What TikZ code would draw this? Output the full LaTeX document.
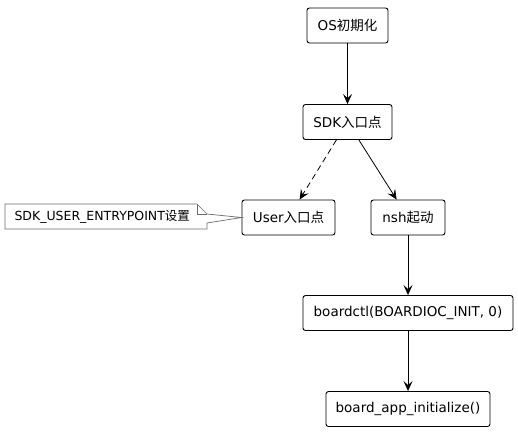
\documentclass[tikz,border=0pt]{standalone}
\usepackage{fontspec}
\setmainfont{DejaVu Sans}
\newfontfamily\cjk{Noto Sans CJK SC}
\usetikzlibrary{arrows.meta}

\tikzset{
stepbox/.style={draw, line width=0.9pt, rounded corners=2.5pt, minimum height=35pt,
font=\fontsize{13.5}{15}\selectfont},
flow/.style={-{Stealth[length=10pt,width=9pt,inset=4pt]}, line width=0.8pt},
}

\begin{document}
\begin{tikzpicture}[x=1pt, y=-1pt]
\useasboundingbox (0,0) rectangle (518,432);
\node (os) [stepbox, minimum width=81pt] at (347.5,25.5) {OS{\cjk 初期化}};
\node (sdk) [stepbox, minimum width=89pt] at (347.5,122) {SDK{\cjk 入口点}};
\node (user) [stepbox, minimum width=93pt] at (288.5,217.5) {User{\cjk 入口点}};
\node (nsh) [stepbox, minimum width=74pt] at (408,217.5) {nsh{\cjk 起动}};
\node (ctl) [stepbox, minimum width=210pt] at (408,313) {boardctl(BOARDIOC\_INIT, 0)};
\node (app) [stepbox, minimum width=164pt] at (408,409) {board\_app\_initialize()};

% note on the user entry
\draw [gray!85!black, line width=0.7pt, fill=white] (5,204) -- (197,204) -- (207,214)
-- (user.west) -- (207,223) -- (207,229) -- (5,229) -- cycle;
\draw [gray!85!black, line width=0.7pt] (197,204) -- (197,214) -- (207,214);
\node (note) [anchor=west, font=\fontsize{12.5}{14}\selectfont] at (11,216.5)
{SDK\_USER\_ENTRYPOINT{\cjk 设置}};

\draw [flow] (os) -- (sdk);
\draw [flow, dash pattern=on 6pt off 4pt] (sdk) -- (user);
\draw [flow] (sdk) -- (nsh);
\draw [flow] (nsh) -- (ctl);
\draw [flow] (ctl) -- (app);
\end{tikzpicture}
\end{document}
